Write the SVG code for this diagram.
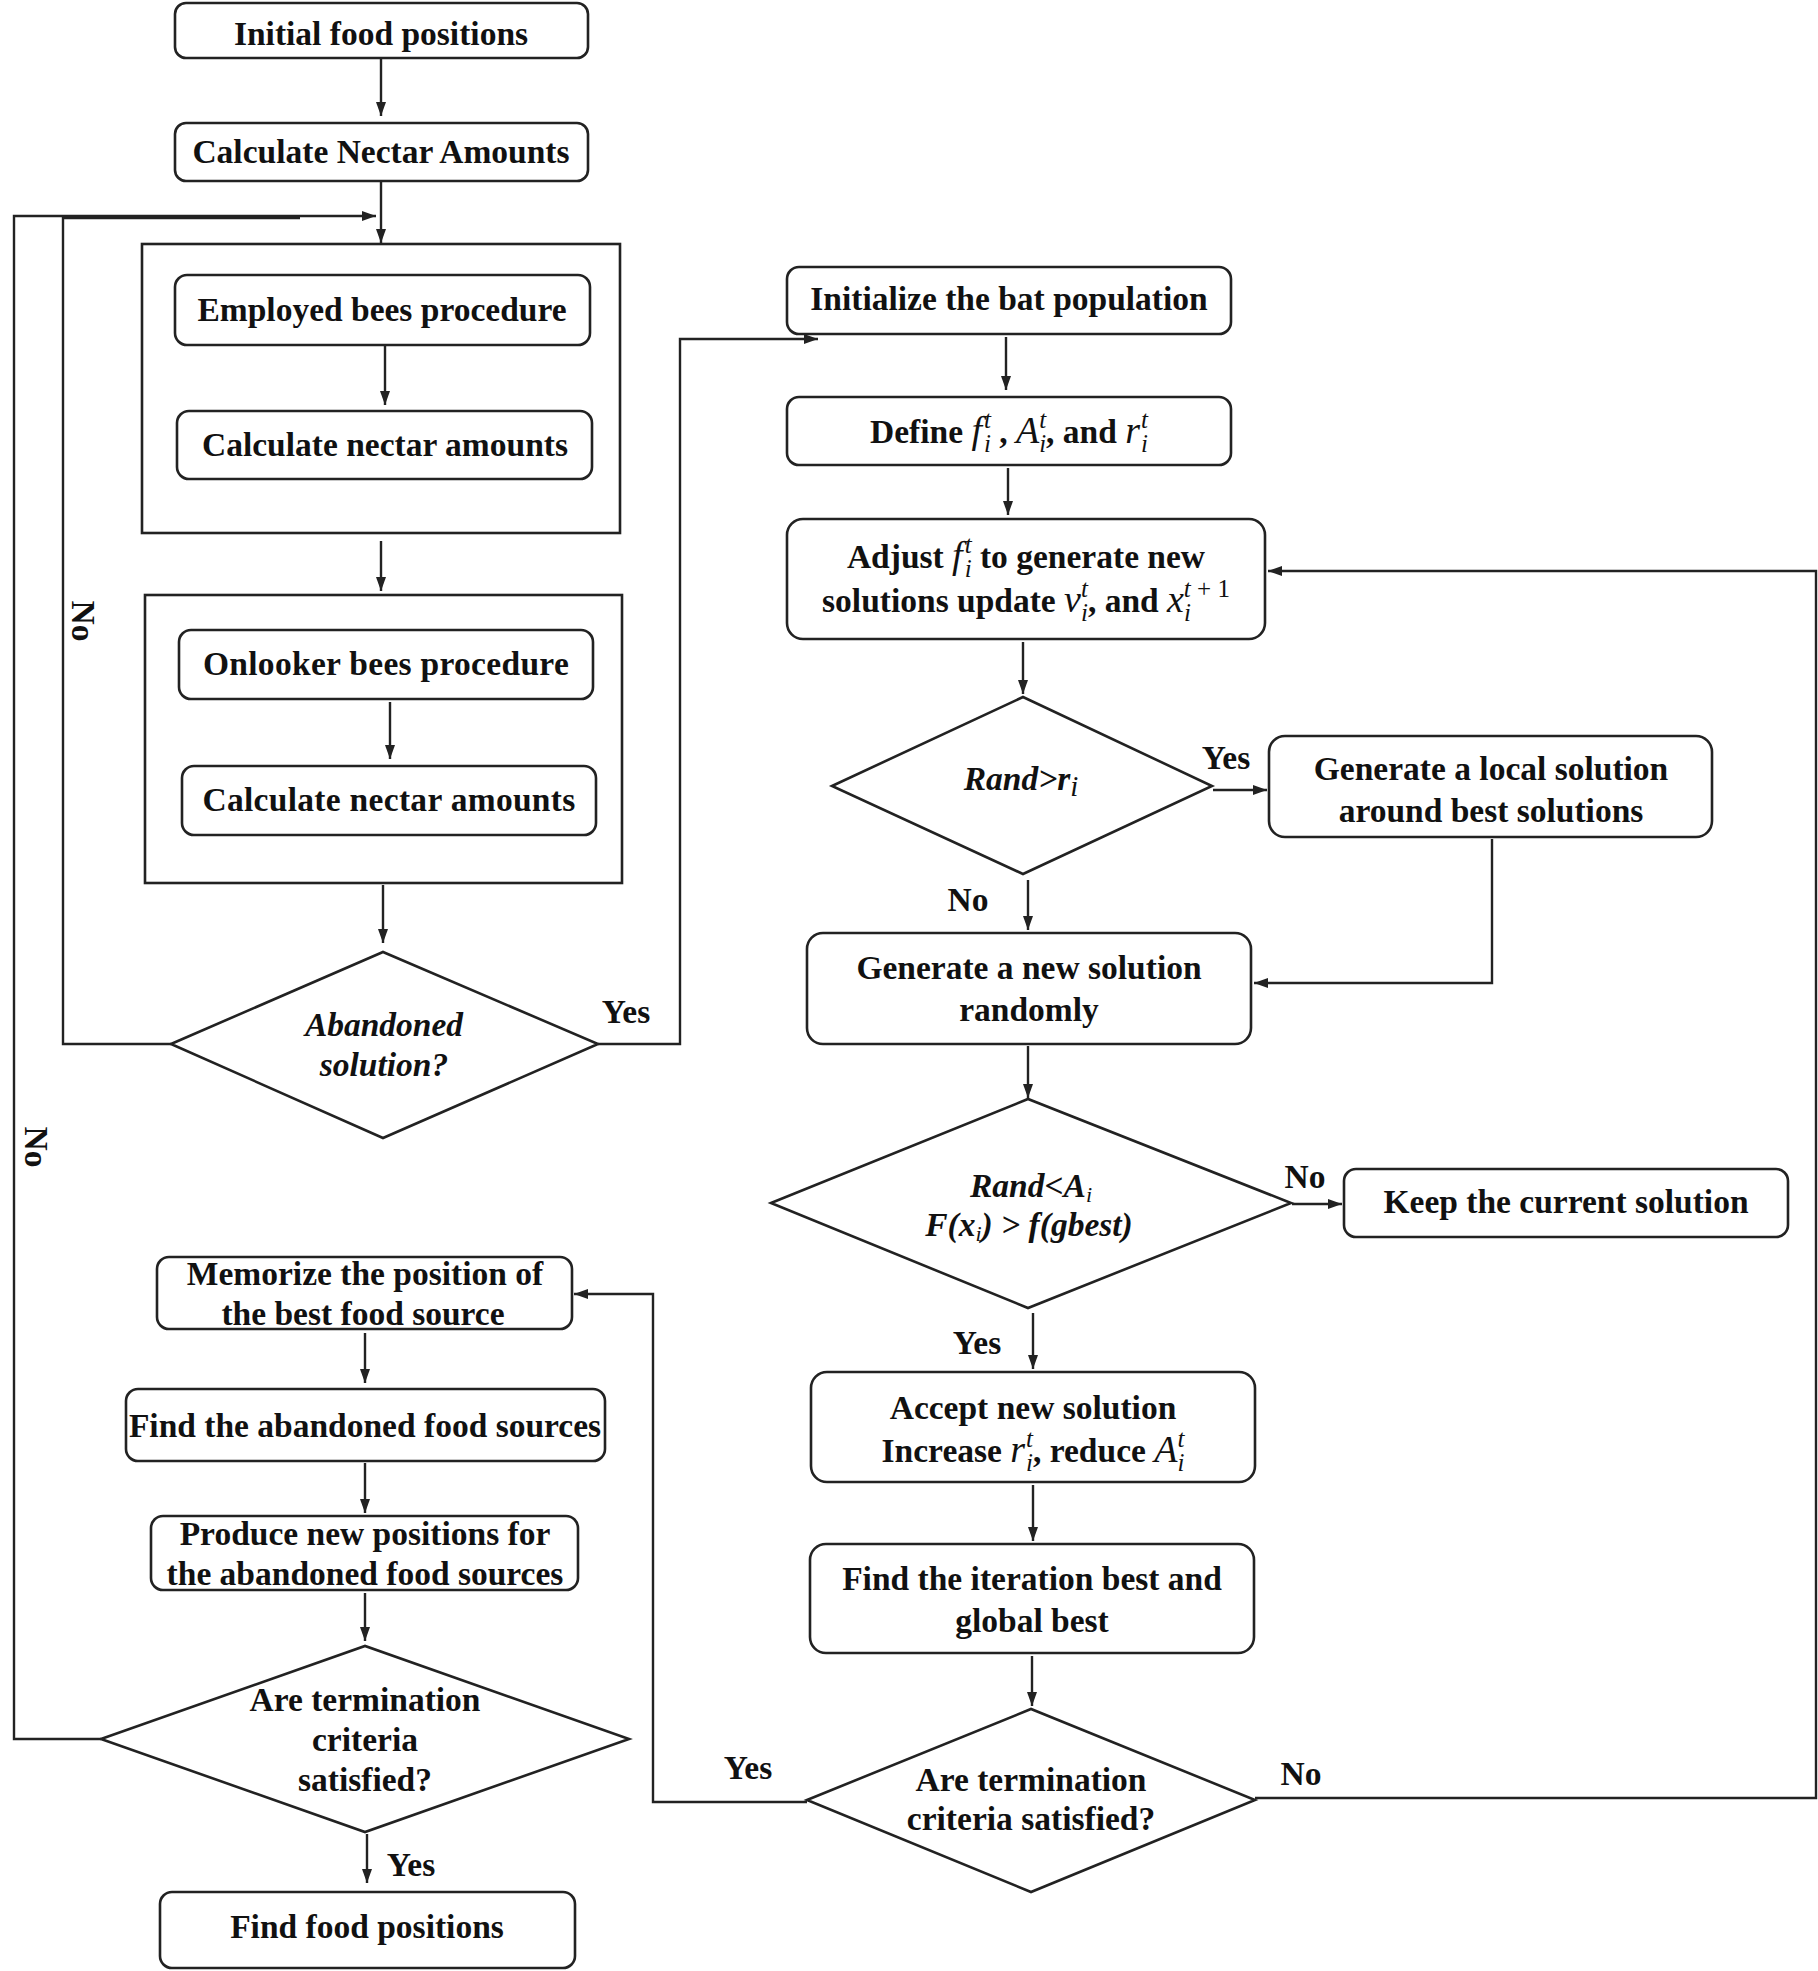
<svg xmlns="http://www.w3.org/2000/svg" width="1818" height="1971" viewBox="0 0 1818 1971">
<style>
.bx{fill:#fff;stroke:#222;stroke-width:2.6}
.fr{fill:none;stroke:#222;stroke-width:2.6}
.ln{fill:none;stroke:#222;stroke-width:2.4}
.t{font-family:"Liberation Serif","Times New Roman",serif;font-weight:bold;font-size:33.5px;fill:#111;text-anchor:middle}
.it{font-style:italic}
.m{font-style:italic;font-weight:normal;font-size:38px}
.s{font-size:25px;font-style:italic;font-weight:normal}
.u{font-size:25px;font-style:normal;font-weight:normal}
</style>
<defs>
<marker id="ah" markerUnits="userSpaceOnUse" viewBox="0 0 14 10" refX="14" refY="5" markerWidth="14" markerHeight="10" orient="auto"><path d="M0,0 L14,5 L0,10 z" fill="#222"/></marker>
</defs>
<rect width="1818" height="1971" fill="#fff"/>
<g id="connectors">
<path class="ln" marker-end="url(#ah)" d="M381,59 V116"/>
<path class="ln" marker-end="url(#ah)" d="M381,182 V243"/>
<path class="ln" marker-end="url(#ah)" d="M385,346 V405"/>
<path class="ln" marker-end="url(#ah)" d="M381,541 V591"/>
<path class="ln" marker-end="url(#ah)" d="M390,702 V759"/>
<path class="ln" marker-end="url(#ah)" d="M383,885 V943"/>
<path class="ln" d="M171,1044 H63 V218 H300"/>
<path class="ln" marker-end="url(#ah)" d="M101,1739 H14 V216 H376"/>
<path class="ln" marker-end="url(#ah)" d="M598,1044 H680 V339 H818"/>
<path class="ln" marker-end="url(#ah)" d="M365,1333 V1383"/>
<path class="ln" marker-end="url(#ah)" d="M365,1463 V1513"/>
<path class="ln" marker-end="url(#ah)" d="M365,1593 V1641"/>
<path class="ln" marker-end="url(#ah)" d="M367,1834 V1883"/>
<path class="ln" marker-end="url(#ah)" d="M1006,337 V390"/>
<path class="ln" marker-end="url(#ah)" d="M1008,468 V515"/>
<path class="ln" marker-end="url(#ah)" d="M1023,642 V694"/>
<path class="ln" marker-end="url(#ah)" d="M1213,790 H1267"/>
<path class="ln" marker-end="url(#ah)" d="M1492,839 V983 H1254"/>
<path class="ln" marker-end="url(#ah)" d="M1028,880 V930"/>
<path class="ln" marker-end="url(#ah)" d="M1028,1046 V1098"/>
<path class="ln" marker-end="url(#ah)" d="M1292,1204 H1342"/>
<path class="ln" marker-end="url(#ah)" d="M1033,1313 V1369"/>
<path class="ln" marker-end="url(#ah)" d="M1033,1485 V1541"/>
<path class="ln" marker-end="url(#ah)" d="M1032,1656 V1706"/>
<path class="ln" marker-end="url(#ah)" d="M807,1802 H653 V1294 H574"/>
<path class="ln" marker-end="url(#ah)" d="M1255,1798 H1816 V571 H1268"/>
<text class="t" x="626" y="1023">Yes</text>
<text class="t" transform="translate(72,621) rotate(90)">No</text>
<text class="t" transform="translate(25,1147) rotate(90)">No</text>
<text class="t" x="411" y="1876">Yes</text>
<text class="t" x="1226" y="769">Yes</text>
<text class="t" x="968" y="911">No</text>
<text class="t" x="1305" y="1188">No</text>
<text class="t" x="977" y="1354">Yes</text>
<text class="t" x="748" y="1779">Yes</text>
<text class="t" x="1301" y="1785">No</text>
</g>
<g id="n-initial"><rect class="bx" x="175" y="3" width="413" height="55" rx="11"/><text class="t" x="381" y="45">Initial food positions</text></g>
<g id="n-calc"><rect class="bx" x="175" y="123" width="413" height="58" rx="11"/><text class="t" x="381" y="163">Calculate Nectar Amounts</text></g>
<g id="n-employed-frame"><rect class="fr" x="142" y="244" width="478" height="289"/></g>
<g id="n-employed"><rect class="bx" x="175" y="275" width="415" height="70" rx="12"/><text class="t" x="382" y="321">Employed bees procedure</text></g>
<g id="n-calc1"><rect class="bx" x="177" y="411" width="415" height="68" rx="12"/><text class="t" x="385" y="456">Calculate nectar amounts</text></g>
<g id="n-onlooker-frame"><rect class="fr" x="145" y="595" width="477" height="288"/></g>
<g id="n-onlooker"><rect class="bx" x="179" y="630" width="414" height="69" rx="12"/><text class="t" x="386" y="675" letter-spacing="0.3">Onlooker bees procedure</text></g>
<g id="n-calc2"><rect class="bx" x="182" y="766" width="414" height="69" rx="12"/><text class="t" x="389" y="811" letter-spacing="0.3">Calculate nectar amounts</text></g>
<g id="n-abandoned"><path class="bx" d="M171,1044 L383,952 L598,1044 L383,1138 Z"/><text class="t it" x="384" y="1036">Abandoned</text><text class="t it" x="384" y="1076">solution?</text></g>
<g id="n-memorize"><rect class="bx" x="157" y="1257" width="415" height="72" rx="12"/><text class="t" x="365" y="1285">Memorize the position of</text><text class="t" x="363" y="1325">the best food source</text></g>
<g id="n-find-abandoned"><rect class="bx" x="126" y="1389" width="479" height="72" rx="12"/><text class="t" x="365" y="1437">Find the abandoned food sources</text></g>
<g id="n-produce"><rect class="bx" x="151" y="1516" width="427" height="74" rx="12"/><text class="t" x="365" y="1545">Produce new positions for</text><text class="t" x="365" y="1585">the abandoned food sources</text></g>
<g id="n-term1"><path class="bx" d="M101,1739 L365,1646 L629,1739 L365,1832 Z"/><text class="t" x="365" y="1711">Are termination</text><text class="t" x="365" y="1751">criteria</text><text class="t" x="365" y="1791">satisfied?</text></g>
<g id="n-find-food"><rect class="bx" x="160" y="1892" width="415" height="76" rx="12"/><text class="t" x="367" y="1938">Find food positions</text></g>
<g id="n-init-bat"><rect class="bx" x="787" y="267" width="444" height="67" rx="12"/><text class="t" x="1009" y="310">Initialize the bat population</text></g>
<g id="n-define"><rect class="bx" x="787" y="397" width="444" height="68" rx="12"/><text class="t" x="1009" y="443">Define <tspan class="m">f</tspan><tspan class="s" dx="2" dy="9">i</tspan><tspan class="s" dx="-7" dy="-24">t</tspan><tspan dy="15"> , </tspan><tspan class="m">A</tspan><tspan class="s" dy="9">i</tspan><tspan class="s" dx="-7" dy="-24">t</tspan><tspan dy="15">, and </tspan><tspan class="m">r</tspan><tspan class="s" dx="1" dy="9">i</tspan><tspan class="s" dx="-7" dy="-24">t</tspan></text></g>
<g id="n-adjust"><rect class="bx" x="787" y="519" width="478" height="120" rx="16"/><text class="t" x="1026" y="568">Adjust <tspan class="m">f</tspan><tspan class="s" dx="2" dy="9">i</tspan><tspan class="s" dx="-7" dy="-24">t</tspan><tspan dy="15">  to generate new</tspan></text><text class="t" x="1026" y="612">solutions update <tspan class="m">v</tspan><tspan class="s" dy="9">i</tspan><tspan class="s" dx="-7" dy="-24">t</tspan><tspan dy="15">, and </tspan><tspan class="m">x</tspan><tspan class="s" dy="9">i</tspan><tspan class="s" dx="-7" dy="-24">t</tspan><tspan class="u"> + 1</tspan></text></g>
<g id="n-rand-r"><path class="bx" d="M832,786 L1023,697 L1212,786 L1023,874 Z"/><text class="t it" x="1021" y="790" font-size="41">Rand&gt;r<tspan font-size="29" font-weight="normal" dy="6">i</tspan></text></g>
<g id="n-local"><rect class="bx" x="1269" y="736" width="443" height="101" rx="16"/><text class="t" x="1491" y="780">Generate a local solution</text><text class="t" x="1491" y="822">around best solutions</text></g>
<g id="n-new-random"><rect class="bx" x="807" y="933" width="444" height="111" rx="16"/><text class="t" x="1029" y="979">Generate a new solution</text><text class="t" x="1029" y="1021">randomly</text></g>
<g id="n-rand-a"><path class="bx" d="M771,1203 L1028,1099 L1291,1203 L1028,1308 Z"/><text class="t it" x="1031" y="1197" font-size="31">Rand&lt;A<tspan font-size="22" font-weight="normal" dy="5">i</tspan></text><text class="t it" x="1029" y="1236" font-size="31">F(x<tspan font-size="22" font-weight="normal" dy="5">i</tspan><tspan dy="-5">) &gt; f(gbest)</tspan></text></g>
<g id="n-keep"><rect class="bx" x="1344" y="1169" width="444" height="68" rx="12"/><text class="t" x="1566" y="1213">Keep the current solution</text></g>
<g id="n-accept"><rect class="bx" x="811" y="1372" width="444" height="110" rx="16"/><text class="t" x="1033" y="1419">Accept new solution</text><text class="t" x="1033" y="1462">Increase <tspan class="m">r</tspan><tspan class="s" dx="1" dy="9">i</tspan><tspan class="s" dx="-7" dy="-24">t</tspan><tspan dy="15">, reduce </tspan><tspan class="m">A</tspan><tspan class="s" dy="9">i</tspan><tspan class="s" dx="-7" dy="-24">t</tspan></text></g>
<g id="n-iter-best"><rect class="bx" x="810" y="1544" width="444" height="109" rx="16"/><text class="t" x="1032" y="1590">Find the iteration best and</text><text class="t" x="1032" y="1632">global best</text></g>
<g id="n-term2"><path class="bx" d="M807,1800 L1031,1709 L1255,1800 L1031,1892 Z"/><text class="t" x="1031" y="1791">Are termination</text><text class="t" x="1031" y="1830">criteria satisfied?</text></g>
</svg>
